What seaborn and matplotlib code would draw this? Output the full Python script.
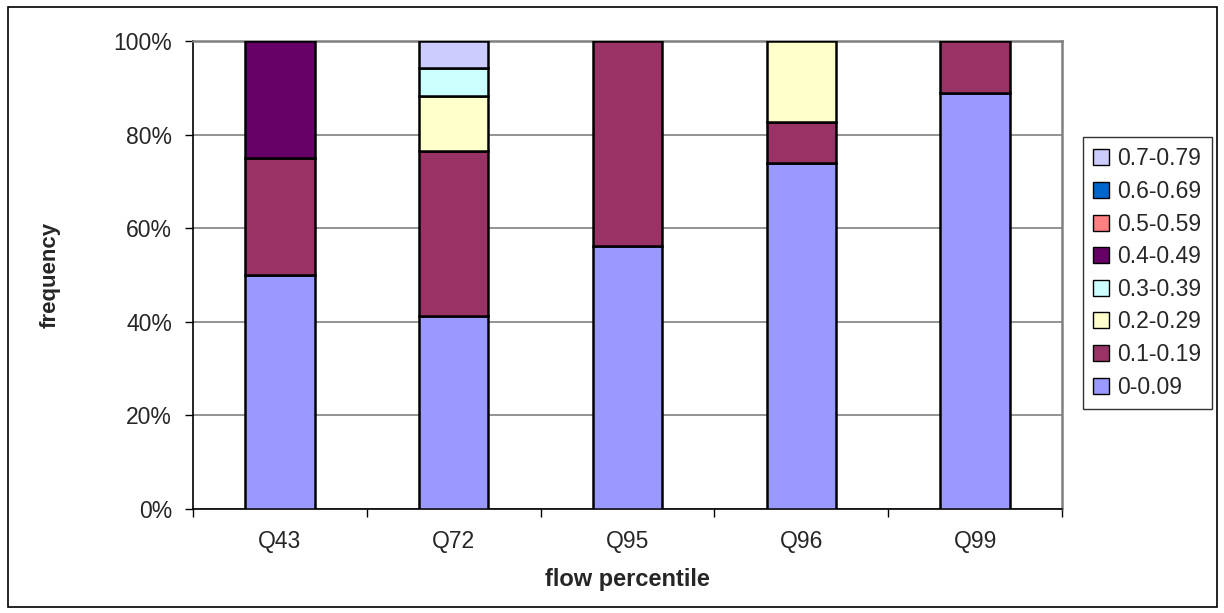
import pandas as pd
import seaborn as sns
import matplotlib.pyplot as plt
from matplotlib.patches import Patch, Rectangle
from matplotlib.ticker import PercentFormatter

# flow percentile categories
percentiles = ['Q43', 'Q72', 'Q95', 'Q96', 'Q99']

# frequency classes (bottom to top of the stack)
classes = ['0-0.09', '0.1-0.19', '0.2-0.29', '0.3-0.39',
           '0.4-0.49', '0.5-0.59', '0.6-0.69', '0.7-0.79']

# share of each class per percentile (%)
f_000 = [50.0, 41.2, 56.2, 73.9, 88.9]
f_010 = [25.0, 35.3, 43.8, 8.7, 11.1]
f_020 = [0.0, 11.8, 0.0, 17.4, 0.0]
f_030 = [0.0, 5.9, 0.0, 0.0, 0.0]
f_040 = [25.0, 0.0, 0.0, 0.0, 0.0]
f_050 = [0.0, 0.0, 0.0, 0.0, 0.0]
f_060 = [0.0, 0.0, 0.0, 0.0, 0.0]
f_070 = [0.0, 5.9, 0.0, 0.0, 0.0]

colors = ['#9999FF', '#993366', '#FFFFCC', '#CCFFFF',
          '#660066', '#FF8080', '#0066CC', '#CCCCFF']

df = pd.DataFrame({'percentile': percentiles,
                   '0-0.09': f_000, '0.1-0.19': f_010, '0.2-0.29': f_020,
                   '0.3-0.39': f_030, '0.4-0.49': f_040, '0.5-0.59': f_050,
                   '0.6-0.69': f_060, '0.7-0.79': f_070})
long = df.melt(id_vars='percentile', var_name='class', value_name='freq')
long['class'] = pd.Categorical(long['class'], categories=classes, ordered=True)
long = long.sort_values(['percentile', 'class'])
long['bottom'] = long.groupby('percentile')['freq'].cumsum() - long['freq']

sns.set_style('white')
plt.rcParams['font.family'] = ['Liberation Sans', 'DejaVu Sans']

fig = plt.figure(figsize=(12.24, 6.13), dpi=100)
ax = fig.add_axes([193 / 1224, 1 - 509 / 613, (1062 - 193) / 1224, (509 - 41) / 613])

for cls, col in zip(classes, colors):
    sub = long[(long['class'] == cls) & (long['freq'] > 0)]
    if sub.empty:
        continue
    sns.barplot(data=sub, x='percentile', y='freq', order=percentiles,
                bottom=sub['bottom'].values, color=col, width=0.4,
                edgecolor='black', linewidth=1.8, saturation=1, ax=ax, zorder=3)

ax.set_xlim(-0.5, 4.5)
ax.set_ylim(0, 100)
ax.set_yticks(range(0, 101, 20))
ax.yaxis.set_major_formatter(PercentFormatter(decimals=0))
ax.yaxis.grid(True, color='#808080', linewidth=1.2, zorder=0)
ax.set_axisbelow(True)

# category boundary ticks, labels centred between them
ax.set_xticks([i - 0.5 for i in range(len(percentiles) + 1)])
ax.set_xticklabels([])
ax.set_xticks(range(len(percentiles)), minor=True)
ax.set_xticklabels(percentiles, minor=True)
ax.tick_params(axis='x', which='major', length=6, width=1, color='black', direction='out', bottom=True)
ax.tick_params(axis='x', which='minor', length=0, pad=15, labelsize=16.5)
ax.tick_params(axis='y', length=6, width=1, color='black', direction='out', left=True, pad=9, labelsize=16.5)

for s in ['left', 'bottom']:
    ax.spines[s].set_color('black')
    ax.spines[s].set_linewidth(1.2)
for s in ['top', 'right']:
    ax.spines[s].set_visible(True)
    ax.spines[s].set_color('#808080')
    ax.spines[s].set_linewidth(1.8)

ax.set_xlabel('flow percentile', fontsize=17, fontweight='bold', labelpad=11)
ax.set_ylabel('frequency', fontsize=16, fontweight='bold', labelpad=38)

handles = [Patch(facecolor=c, edgecolor='black', linewidth=1, label=l)
           for l, c in zip(classes, colors)][::-1]
leg = fig.legend(handles=handles, loc='upper left',
                 bbox_to_anchor=(1083 / 1224, 1 - 137 / 613), fontsize=16.5,
                 frameon=True, fancybox=False, edgecolor='black',
                 handlelength=0.7, handleheight=0.7, handletextpad=0.35,
                 labelspacing=0.42, borderpad=0.45, borderaxespad=0)
leg.get_frame().set_linewidth(1)

fig.patches.append(Rectangle((8 / 1224, 6 / 613), 1209 / 1224, 600 / 613,
                             transform=fig.transFigure, fill=False,
                             edgecolor='black', linewidth=1.2))

fig.savefig('out.png', dpi=100)
